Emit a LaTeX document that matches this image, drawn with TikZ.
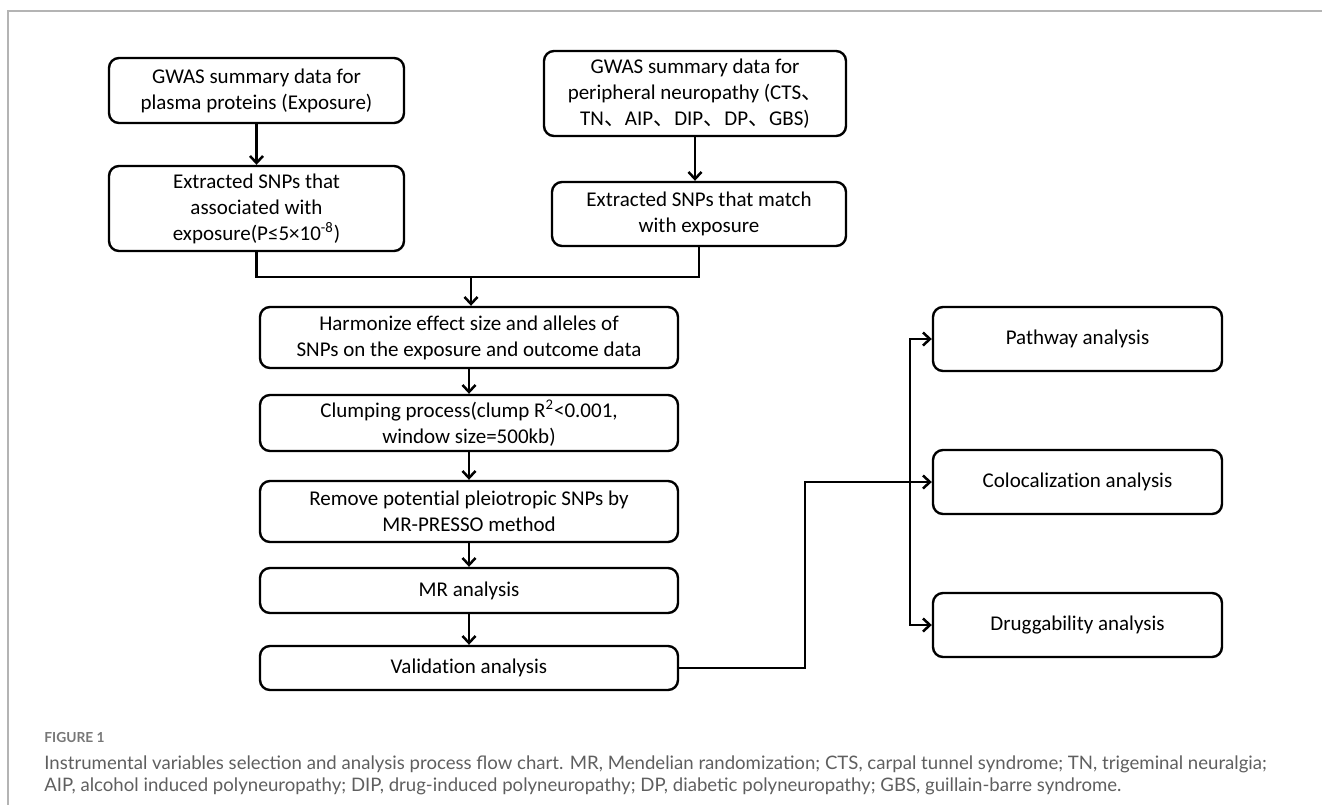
\documentclass[tikz,border=0pt]{standalone}
\usepackage{fontspec}
\setmainfont{Carlito}[Ligatures=NoCommon]
\newfontfamily\cjk{Noto Sans CJK SC}
\newfontfamily\capfont{Lato}
\usetikzlibrary{shapes,arrows,arrows.meta,positioning,calc}

\definecolor{framegray}{HTML}{B4B4B4}
\definecolor{capgray}{HTML}{5F5F5F}
\newcommand{\icomma}{{\cjk 、}}

\tikzset{
    flowbox/.style={rectangle, draw, rounded corners=5pt, line width=1.2pt, align=center,
        inner sep=0pt, font=\fontsize{10.5}{13}\selectfont},
    flowline/.style={line width=1.25pt},
    flowarrow/.style={flowline, -{Straight Barb[length=3.5pt,width=6.5pt]}},
}

\begin{document}
\begin{tikzpicture}[x=0.5pt, y=-0.5pt]
    \useasboundingbox (0,0) rectangle (1322,805);
    % frame of the figure
    \draw[framegray, line width=0.8pt] (7,11) -- (1322,11);
    \draw[framegray, line width=0.8pt] (8,11) -- (8,805);

    % left branch: exposure
    \node[flowbox, minimum width=147.5pt, minimum height=32.5pt] (plasma) at (256.5,90.5) {GWAS summary data for\\plasma proteins (Exposure)};
    \node[flowbox, minimum width=147.5pt, minimum height=42.5pt] (snpexp) at (256.5,208.5) {Extracted SNPs that\\associated with\\exposure(P≤5×10\textsuperscript{-8})};

    % right branch: outcome
    \node[flowbox, minimum width=151pt, minimum height=42.5pt] (gwaspn) at (695,93.5) {GWAS summary data for\\peripheral neuropathy (CTS\icomma\\TN\icomma AIP\icomma DIP\icomma DP\icomma GBS)};
    \node[flowbox, minimum width=147pt, minimum height=32pt] (snpmatch) at (699,214) {Extracted SNPs that match\\with exposure};

    % main column
    \node[flowbox, minimum width=209pt, minimum height=30.5pt] (harmon) at (469,337.5) {Harmonize effect size and alleles of\\SNPs on the exposure and outcome data};
    \node[flowbox, minimum width=209pt, minimum height=28pt] (clump) at (469,423) {Clumping process(clump R\textsuperscript{2}<0.001,\\window size=500kb)};
    \node[flowbox, minimum width=209pt, minimum height=30.5pt] (presso) at (469,511.5) {Remove potential pleiotropic SNPs by\\MR-PRESSO method};
    \node[flowbox, minimum width=209pt, minimum height=22.5pt] (mr) at (469,590.5) {MR analysis};
    \node[flowbox, minimum width=209pt, minimum height=22pt] (valid) at (469,668) {Validation analysis};

    % follow-up analyses
    \node[flowbox, minimum width=144.5pt, minimum height=32pt] (pathway) at (1077.5,339) {Pathway analysis};
    \node[flowbox, minimum width=144.5pt, minimum height=32pt] (coloc) at (1077.5,482) {Colocalization analysis};
    \node[flowbox, minimum width=144.5pt, minimum height=32pt] (drug) at (1077.5,625) {Druggability analysis};

    \coordinate (merge) at (471,277);
    \coordinate (vbend) at (805,482);
    \coordinate (brtop) at (910,339);
    \coordinate (brbot) at (910,625);

    \draw[flowarrow] (plasma) -- (snpexp);
    \draw[flowarrow] (gwaspn.south) -- (gwaspn.south |- snpmatch.north);
    \draw[flowline] (snpexp.south) |- (merge);
    \draw[flowline] (snpmatch.south) |- (merge);
    \draw[flowarrow] (merge) -- (merge |- harmon.north);
    \draw[flowarrow] (harmon) -- (clump);
    \draw[flowarrow] (clump) -- (presso);
    \draw[flowarrow] (presso) -- (mr);
    \draw[flowarrow] (mr) -- (valid);
    \draw[flowarrow] (valid.east) -| (vbend) -- (coloc.west);
    \draw[flowline, {Straight Barb[length=3.5pt,width=6.5pt]}-{Straight Barb[length=3.5pt,width=6.5pt]}] (pathway.west) -- (brtop) -- (brbot) -- (drug.west);

    % caption
    \node[anchor=west, inner sep=0pt, text=capgray!85, font=\capfont\bfseries\fontsize{6.9}{8}\selectfont] (figlabel) at (44,737) {FIGURE 1};
    \node[anchor=west, inner sep=0pt, text=capgray, font=\capfont\fontsize{9.3}{10}\selectfont] (capone) at (44,764) {Instrumental variables selection and analysis process flow chart. MR, Mendelian randomization; CTS, carpal tunnel syndrome; TN, trigeminal neuralgia;};
    \node[anchor=west, inner sep=0pt, text=capgray, font=\capfont\fontsize{9.3}{10}\selectfont] (captwo) at (44,786) {AIP, alcohol induced polyneuropathy; DIP, drug-induced polyneuropathy; DP, diabetic polyneuropathy; GBS, guillain-barre syndrome.};
\end{tikzpicture}
\end{document}
